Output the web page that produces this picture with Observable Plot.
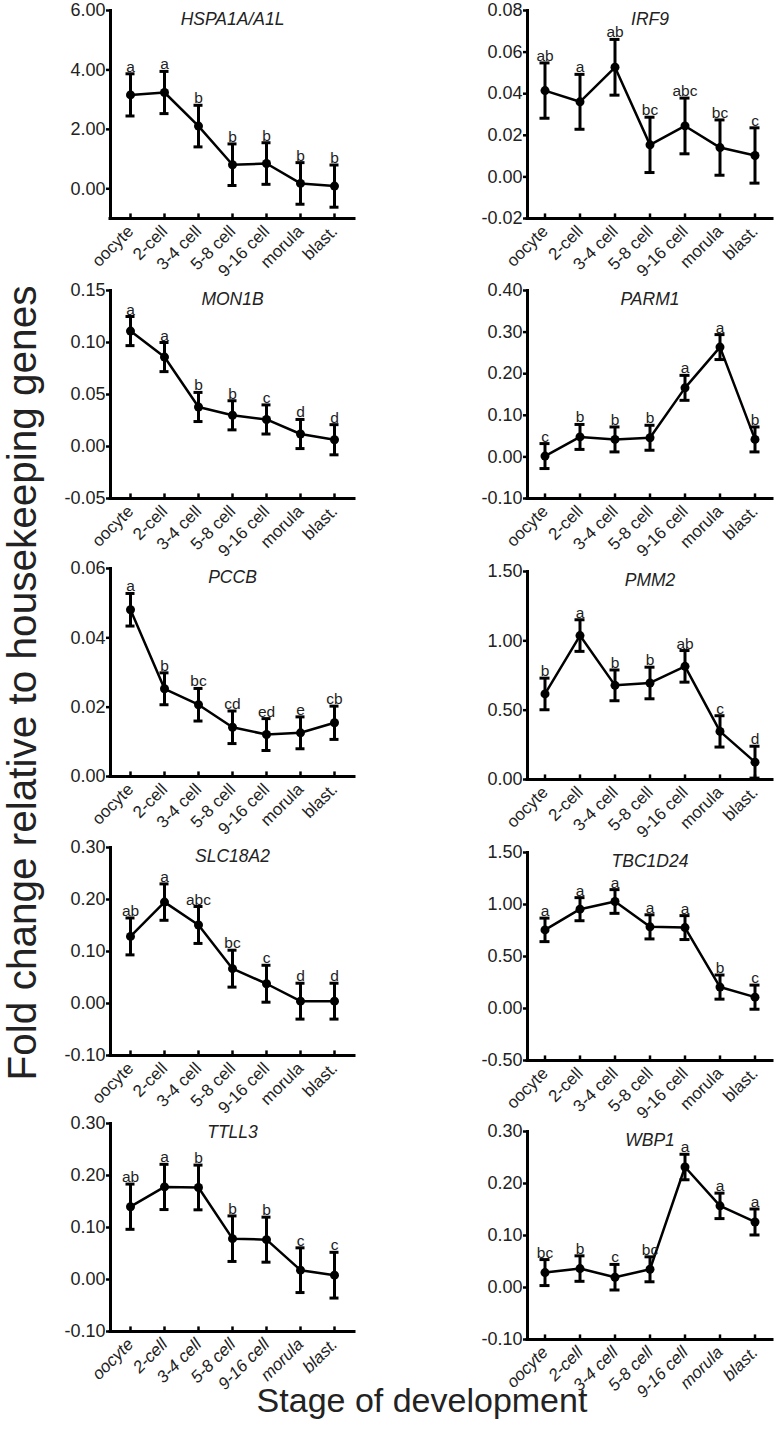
<!DOCTYPE html>
<html><head><meta charset="utf-8">
<script src="https://cdn.jsdelivr.net/npm/d3@7"></script>
<script src="https://cdn.jsdelivr.net/npm/@observablehq/plot@0.6"></script>
<style>
body{margin:0;background:#fff;}
#page{position:relative;width:776px;height:1434px;overflow:hidden;font-family:"Liberation Sans",Arial,sans-serif;background:#fff;}
.panel{position:absolute;}
#ylab{position:absolute;left:22px;top:683px;transform:translate(-50%,-50%) rotate(-90deg);font-size:40.5px;white-space:nowrap;color:#222;line-height:1;}
#xlab{position:absolute;left:422px;top:1383px;transform:translateX(-50%);font-size:34px;white-space:nowrap;color:#222;line-height:1;}
</style></head>
<body><div id="page"><div id="ylab">Fold change relative to housekeeping genes</div><div id="xlab">Stage of development</div></div>
<script>
const stages = ["oocyte","2-cell","3-4 cell","5-8 cell","9-16 cell","morula","blast."];

const hspaMean = [3.16, 3.24, 2.11, 0.81, 0.85, 0.18, 0.09];
const hspaErr = [0.71, 0.71, 0.70, 0.70, 0.70, 0.70, 0.71];
const hspaLetters = ["a","a","b","b","b","b","b"];

const irf9Mean = [0.0415, 0.0361, 0.0527, 0.0154, 0.0245, 0.0141, 0.0103];
const irf9Err = [0.0133, 0.0132, 0.0134, 0.0133, 0.0134, 0.0133, 0.0133];
const irf9Letters = ["ab","a","ab","bc","abc","bc","c"];

const mon1bMean = [0.111, 0.086, 0.038, 0.030, 0.026, 0.012, 0.0065];
const mon1bErr = [0.014, 0.014, 0.014, 0.014, 0.014, 0.014, 0.0145];
const mon1bLetters = ["a","a","b","b","c","d","d"];

const parm1Mean = [0.002, 0.048, 0.042, 0.046, 0.166, 0.264, 0.042];
const parm1Err = [0.030, 0.030, 0.030, 0.030, 0.030, 0.030, 0.030];
const parm1Letters = ["c","b","b","b","a","a","b"];

const pccbMean = [0.0481, 0.0253, 0.0207, 0.0142, 0.0121, 0.0126, 0.0155];
const pccbErr = [0.0047, 0.0046, 0.0047, 0.0047, 0.0046, 0.0046, 0.0048];
const pccbLetters = ["a","b","bc","cd","ed","e","cb"];

const pmm2Mean = [0.617, 1.038, 0.679, 0.696, 0.816, 0.347, 0.125];
const pmm2Err = [0.114, 0.114, 0.111, 0.114, 0.114, 0.113, 0.115];
const pmm2Letters = ["b","a","b","b","ab","c","d"];

const slcMean = [0.129, 0.195, 0.151, 0.067, 0.038, 0.0045, 0.0045];
const slcErr = [0.0355, 0.035, 0.0355, 0.0355, 0.0355, 0.0345, 0.0345];
const slcLetters = ["ab","a","abc","bc","c","d","d"];

const tbcMean = [0.756, 0.955, 1.029, 0.785, 0.778, 0.206, 0.109];
const tbcErr = [0.113, 0.111, 0.114, 0.116, 0.115, 0.116, 0.116];
const tbcLetters = ["a","a","a","a","a","b","c"];

const ttll3Mean = [0.140, 0.178, 0.177, 0.0785, 0.0766, 0.0179, 0.0083];
const ttll3Err = [0.0435, 0.0435, 0.043, 0.0438, 0.0433, 0.043, 0.044];
const ttll3Letters = ["ab","a","b","b","b","c","c"];

const wbp1Mean = [0.0287, 0.0364, 0.0198, 0.035, 0.2317, 0.157, 0.126];
const wbp1Err = [0.025, 0.0245, 0.0246, 0.024, 0.0245, 0.0245, 0.025];
const wbp1Letters = ["bc","b","c","bc","a","a","a"];

const panels = [
  {gene:"HSPA1A/A1L", mean:hspaMean, err:hspaErr, letters:hspaLetters, domain:[-1,6], ticks:[0,2,4,6], col:0, top:10},
  {gene:"IRF9", mean:irf9Mean, err:irf9Err, letters:irf9Letters, domain:[-0.02,0.08], ticks:[-0.02,0,0.02,0.04,0.06,0.08], col:1, top:10},
  {gene:"MON1B", mean:mon1bMean, err:mon1bErr, letters:mon1bLetters, domain:[-0.05,0.15], ticks:[-0.05,0,0.05,0.10,0.15], col:0, top:290},
  {gene:"PARM1", mean:parm1Mean, err:parm1Err, letters:parm1Letters, domain:[-0.1,0.4], ticks:[-0.1,0,0.1,0.2,0.3,0.4], col:1, top:290},
  {gene:"PCCB", mean:pccbMean, err:pccbErr, letters:pccbLetters, domain:[0,0.06], ticks:[0,0.02,0.04,0.06], col:0, top:568},
  {gene:"PMM2", mean:pmm2Mean, err:pmm2Err, letters:pmm2Letters, domain:[0,1.5], ticks:[0,0.5,1,1.5], col:1, top:571},
  {gene:"SLC18A2", mean:slcMean, err:slcErr, letters:slcLetters, domain:[-0.1,0.3], ticks:[-0.1,0,0.1,0.2,0.3], col:0, top:847},
  {gene:"TBC1D24", mean:tbcMean, err:tbcErr, letters:tbcLetters, domain:[-0.5,1.5], ticks:[-0.5,0,0.5,1,1.5], col:1, top:852},
  {gene:"TTLL3", mean:ttll3Mean, err:ttll3Err, letters:ttll3Letters, domain:[-0.1,0.3], ticks:[-0.1,0,0.1,0.2,0.3], col:0, top:1123, italicX:true},
  {gene:"WBP1", mean:wbp1Mean, err:wbp1Err, letters:wbp1Letters, domain:[-0.1,0.3], ticks:[-0.1,0,0.1,0.2,0.3], col:1, top:1131, italicX:true}
];

const page = document.getElementById("page");
const fontFamily = "Liberation Sans, Arial, sans-serif";

for (const p of panels) {
  const data = stages.map((s, i) => ({stage: s, mean: p.mean[i], lo: p.mean[i] - p.err[i], hi: p.mean[i] + p.err[i], letter: p.letters[i]}));
  const [y0, y1] = p.domain;
  const L = p.col === 0 ? {left: 0, width: 370, ml: 110, mr: 16} : {left: 390, width: 386, ml: 137, mr: 4};
  const mt = 14, ph = 208, mb = 78;
  const chart = Plot.plot({
    width: L.width, height: mt + ph + mb,
    marginTop: mt, marginBottom: mb, marginLeft: L.ml, marginRight: L.mr,
    style: {background: "transparent", fontFamily, fontSize: "17px", color: "#222", overflow: "visible"},
    x: {type: "band", domain: stages, padding: 0},
    y: {domain: p.domain},
    marks: [
      Plot.ruleY([y0], {stroke: "#000", strokeWidth: 3, strokeLinecap: "square"}),
      Plot.frame({anchor: "left", stroke: "#000", strokeWidth: 3, strokeLinecap: "square"}),
      Plot.ruleX(stages, {x: d => d, y1: y0, y2: y0 + (y1 - y0) * 0.022, stroke: "#000", strokeWidth: 2.5}),
      Plot.axisY({ticks: p.ticks, tickFormat: d => d.toFixed(2), tickSize: 4, tickPadding: 1, fontSize: 18, strokeWidth: 2.5, stroke: "#000", label: null}),
      Plot.axisX({tickSize: 0, tickPadding: 10, tickRotate: -45, fontSize: 17, fontStyle: p.italicX ? "italic" : "normal", label: null}),
      Plot.ruleX(data, {x: "stage", y1: "lo", y2: "hi", stroke: "#000", strokeWidth: 3}),
      Plot.tickY(data, {x: "stage", y: "hi", insetLeft: 12.5, insetRight: 12.5, stroke: "#000", strokeWidth: 3}),
      Plot.tickY(data, {x: "stage", y: "lo", insetLeft: 12.5, insetRight: 12.5, stroke: "#000", strokeWidth: 3}),
      Plot.line(data, {x: "stage", y: "mean", stroke: "#000", strokeWidth: 2.5}),
      Plot.dot(data, {x: "stage", y: "mean", r: 4.5, fill: "#000"}),
      Plot.text(data, {x: "stage", y: "hi", text: "letter", lineAnchor: "bottom", dy: -2, fontSize: 15.5, fill: "#222"}),
      Plot.text([p.gene], {text: d => d, frameAnchor: "top", lineAnchor: "top", dy: 2.5, fontSize: 17.5, fontStyle: "italic", fill: "#222"})
    ]
  });
  chart.classList.add("panel");
  chart.style.left = L.left + "px";
  chart.style.top = (p.top - mt) + "px";
  page.appendChild(chart);
}
</script>
</body></html>
